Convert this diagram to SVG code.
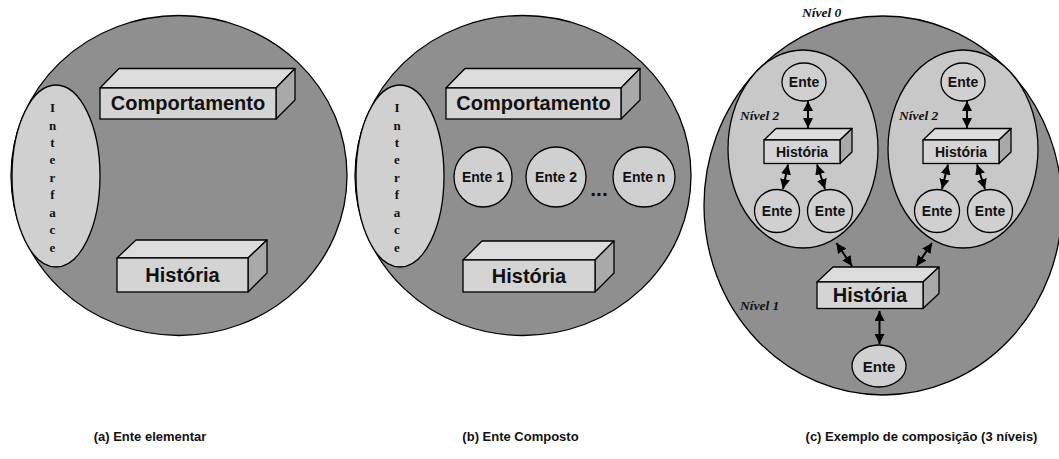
<svg xmlns="http://www.w3.org/2000/svg" width="1059" height="459" viewBox="0 0 1059 459">
<style>
.big{fill:#8f8f8f;stroke:#000;stroke-width:1.3}
.lt{fill:#d0d0d0;stroke:#000;stroke-width:1.3}
.in{fill:#c8c8c8;stroke:#000;stroke-width:1.3}
.front{fill:#d4d4d4;stroke:#000;stroke-width:1.3}
.top{fill:#dcdcdc;stroke:#000;stroke-width:1.3;stroke-linejoin:round}
.side{fill:#a9a9a9;stroke:#000;stroke-width:1.3;stroke-linejoin:round}
.lbl{font-family:"Liberation Sans",Arial,sans-serif;font-weight:bold;fill:#111;text-anchor:middle}
.if{font-family:"Liberation Serif","Times New Roman",serif;font-weight:bold;font-size:13px;fill:#111;text-anchor:middle}
.niv{font-family:"Liberation Serif","Times New Roman",serif;font-weight:bold;font-style:italic;font-size:13.5px;fill:#111}
.cap{font-family:"Liberation Sans",Arial,sans-serif;font-weight:bold;font-size:13px;fill:#111;text-anchor:middle}
.arr{stroke:#000;stroke-width:2;fill:none;marker-start:url(#ah);marker-end:url(#ah)}
</style>
<defs>
<marker id="ah" viewBox="0 0 10 10" refX="10" refY="5" markerWidth="5" markerHeight="5" orient="auto-start-reverse" markerUnits="strokeWidth">
<path d="M0,0 L10,5 L0,10 z" fill="#000"/>
</marker>
</defs>

<!-- Panel (a) -->
<g id="panel-a">
<ellipse class="big" cx="179" cy="175.5" rx="168" ry="160"/>
</g>
<g id="a-interface">
<ellipse class="lt" cx="56" cy="176" rx="44" ry="91"/>
<text class="if" x="52.5" y="112">I</text>
<text class="if" x="52.5" y="130">n</text>
<text class="if" x="52.5" y="147">t</text>
<text class="if" x="52.5" y="164">e</text>
<text class="if" x="52.5" y="182">r</text>
<text class="if" x="52.5" y="199">f</text>
<text class="if" x="52.5" y="217">a</text>
<text class="if" x="52.5" y="234">c</text>
<text class="if" x="52.5" y="252">e</text>
</g>
<g id="a-comportamento">
<polygon class="top" points="100,88 119,68.5 295,68.5 276,88"/>
<polygon class="side" points="276,88 295,68.5 295,100 276,119"/>
<rect class="front" x="100" y="88" width="176" height="31"/>
<text class="lbl" x="188" y="110" font-size="20">Comportamento</text>
</g>
<g id="a-historia">
<polygon class="top" points="117,258 136,240 267,240 248,258"/>
<polygon class="side" points="248,258 267,240 267,273 248,292"/>
<rect class="front" x="117" y="258" width="131" height="34"/>
<text class="lbl" x="182.5" y="282" font-size="20">História</text>
</g>

<!-- Panel (b) -->
<g id="panel-b">
<ellipse class="big" cx="523" cy="175.5" rx="168" ry="160"/>
</g>
<g id="b-interface">
<ellipse class="lt" cx="400" cy="176" rx="44" ry="91"/>
<text class="if" x="397" y="112">I</text>
<text class="if" x="397" y="130">n</text>
<text class="if" x="397" y="147">t</text>
<text class="if" x="397" y="164">e</text>
<text class="if" x="397" y="182">r</text>
<text class="if" x="397" y="199">f</text>
<text class="if" x="397" y="217">a</text>
<text class="if" x="397" y="234">c</text>
<text class="if" x="397" y="252">e</text>
</g>
<g id="b-comportamento">
<polygon class="top" points="446,88 465,68.5 640,68.5 621,88"/>
<polygon class="side" points="621,88 640,68.5 640,100 621,119"/>
<rect class="front" x="446" y="88" width="175" height="31"/>
<text class="lbl" x="533.5" y="110" font-size="20">Comportamento</text>
</g>
<g id="b-ente1">
<ellipse class="lt" cx="483" cy="177" rx="29" ry="30"/>
<text class="lbl" x="483" y="182" font-size="14">Ente 1</text>
</g>
<g id="b-ente2">
<ellipse class="lt" cx="556" cy="177" rx="30" ry="30"/>
<text class="lbl" x="556" y="182" font-size="14">Ente 2</text>
</g>
<text class="lbl" x="599" y="196" font-size="21">...</text>
<g id="b-enten">
<ellipse class="lt" cx="644" cy="177" rx="31" ry="30"/>
<text class="lbl" x="644" y="182" font-size="14">Ente n</text>
</g>
<g id="b-historia">
<polygon class="top" points="463,260 482,241 614,241 595,260"/>
<polygon class="side" points="595,260 614,241 614,273 595,292"/>
<rect class="front" x="463" y="260" width="132" height="32"/>
<text class="lbl" x="529" y="283" font-size="20">História</text>
</g>

<!-- Panel (c) -->
<g id="panel-c">
<ellipse class="big" cx="883" cy="205.5" rx="179" ry="189.5"/>
<text class="niv" x="802" y="16.5">Nível 0</text>
<text class="niv" x="740" y="310">Nível 1</text>
</g>
<g id="c-nivel2-left">
<ellipse class="in" cx="803" cy="149" rx="75" ry="99"/>
<text class="niv" x="740" y="120">Nível 2</text>
</g>
<g id="c-nivel2-right">
<ellipse class="in" cx="963" cy="149" rx="75" ry="99"/>
<text class="niv" x="899" y="120">Nível 2</text>
</g>
<g id="c-ente-l-top">
<ellipse class="lt" cx="804" cy="82" rx="22" ry="19"/>
<text class="lbl" x="804" y="87" font-size="14">Ente</text>
</g>
<g id="c-hist-l">
<polygon class="top" points="764,140 776,128.5 852,128.5 840,140"/>
<polygon class="side" points="840,140 852,128.5 852,152 840,163.5"/>
<rect class="front" x="764" y="140" width="76" height="23.5"/>
<text class="lbl" x="802" y="157" font-size="14">História</text>
</g>
<g id="c-ente-l1">
<ellipse class="lt" cx="777" cy="211" rx="22.5" ry="21.5"/>
<text class="lbl" x="777" y="216" font-size="14">Ente</text>
</g>
<g id="c-ente-l2">
<ellipse class="lt" cx="830" cy="211" rx="22.5" ry="21.5"/>
<text class="lbl" x="830" y="216" font-size="14">Ente</text>
</g>
<g id="c-ente-r-top">
<ellipse class="lt" cx="963" cy="82" rx="22" ry="19"/>
<text class="lbl" x="963" y="87" font-size="14">Ente</text>
</g>
<g id="c-hist-r">
<polygon class="top" points="923,140 935,128.5 1011,128.5 999,140"/>
<polygon class="side" points="999,140 1011,128.5 1011,152 999,163.5"/>
<rect class="front" x="923" y="140" width="76" height="23.5"/>
<text class="lbl" x="961" y="157" font-size="14">História</text>
</g>
<g id="c-ente-r1">
<ellipse class="lt" cx="937" cy="211" rx="22.5" ry="21.5"/>
<text class="lbl" x="937" y="216" font-size="14">Ente</text>
</g>
<g id="c-ente-r2">
<ellipse class="lt" cx="990" cy="211" rx="22.5" ry="21.5"/>
<text class="lbl" x="990" y="216" font-size="14">Ente</text>
</g>
<g id="c-hist-big">
<polygon class="top" points="817,282 833,267 939,267 923,282"/>
<polygon class="side" points="923,282 939,267 939,293.5 923,308.5"/>
<rect class="front" x="817" y="282" width="106" height="26.5"/>
<text class="lbl" x="870" y="302" font-size="20">História</text>
</g>
<g id="c-ente-bottom">
<ellipse class="lt" cx="879" cy="366" rx="27" ry="21"/>
<text class="lbl" x="879" y="371.5" font-size="15">Ente</text>
</g>

<g id="connectors">
<line class="arr" x1="808" y1="101" x2="808" y2="128"/>
<line class="arr" x1="967" y1="101" x2="967" y2="128"/>
<line class="arr" x1="788" y1="164.5" x2="783" y2="189"/>
<line class="arr" x1="817" y1="164.5" x2="825" y2="189"/>
<line class="arr" x1="948" y1="164.5" x2="942" y2="189"/>
<line class="arr" x1="977" y1="164.5" x2="985" y2="189"/>
<line class="arr" x1="836.5" y1="243" x2="852" y2="266"/>
<line class="arr" x1="932" y1="243" x2="916.5" y2="266"/>
<line class="arr" x1="879.5" y1="311" x2="879.5" y2="344"/>
</g>

<g id="captions">
<text class="cap" x="150" y="441">(a) Ente elementar</text>
<text class="cap" x="520.5" y="441">(b) Ente Composto</text>
<text class="cap" x="921.5" y="441">(c) Exemplo de composição (3 níveis)</text>
</g>
</svg>
